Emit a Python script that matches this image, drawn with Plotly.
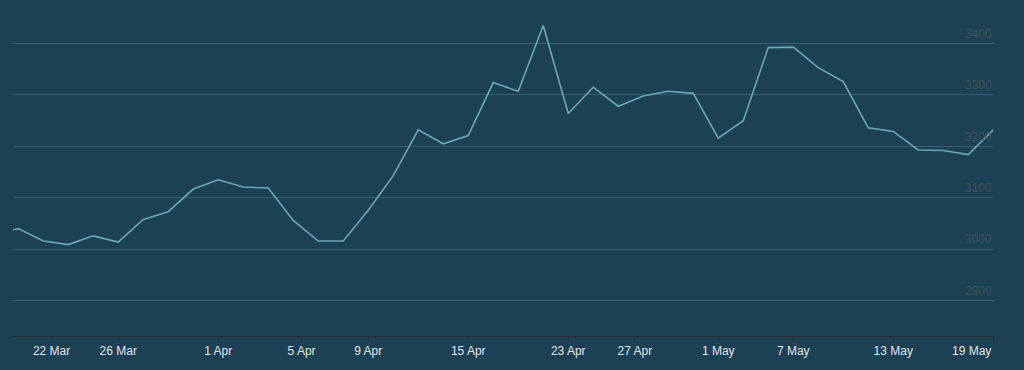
import numpy as np
import pandas as pd
import plotly.graph_objects as go

# Trading days (UK market, 2014) and closing values
dates = [
    "2014-03-19", "2014-03-20", "2014-03-21", "2014-03-24", "2014-03-25", "2014-03-26",
    "2014-03-27", "2014-03-28", "2014-03-31", "2014-04-01", "2014-04-02", "2014-04-03",
    "2014-04-04", "2014-04-07", "2014-04-08", "2014-04-09", "2014-04-10", "2014-04-11",
    "2014-04-14", "2014-04-15", "2014-04-16", "2014-04-17", "2014-04-22", "2014-04-23",
    "2014-04-24", "2014-04-25", "2014-04-28", "2014-04-29", "2014-04-30", "2014-05-01",
    "2014-05-02", "2014-05-06", "2014-05-07", "2014-05-08", "2014-05-09", "2014-05-12",
    "2014-05-13", "2014-05-14", "2014-05-15", "2014-05-16", "2014-05-19",
]
values = [
    3030, 3040, 3016, 3009, 3026, 3014,
    3058, 3073, 3117, 3135, 3121, 3119,
    3056, 3016, 3016, 3076, 3143, 3232,
    3205, 3221, 3324, 3307, 3435, 3264,
    3315, 3278, 3298, 3307, 3303, 3216,
    3250, 3392, 3393, 3353, 3326, 3236,
    3229, 3193, 3192, 3184, 3232,
]
tick_dates = [
    "2014-03-22", "2014-03-26", "2014-04-01", "2014-04-05", "2014-04-09", "2014-04-15",
    "2014-04-23", "2014-04-27", "2014-05-01", "2014-05-07", "2014-05-13", "2014-05-19",
]
tick_labels = [
    "22 Mar", "26 Mar", "1 Apr", "5 Apr", "9 Apr", "15 Apr",
    "23 Apr", "27 Apr", "1 May", "7 May", "13 May", "19 May",
]
y_ticks = [2900, 3000, 3100, 3200, 3300, 3400]

# Ordinal axis: points equally spaced, ticks interpolated by date
pos = np.arange(len(dates))
day_num = pd.to_datetime(pd.Series(dates)).map(pd.Timestamp.toordinal).to_numpy(float)
tick_num = pd.to_datetime(pd.Series(tick_dates)).map(pd.Timestamp.toordinal).to_numpy(float)
tick_pos = np.interp(tick_num, day_num, pos)

# the last label is right-aligned to its tick so it stays inside the chart
shown_labels = tick_labels[:-1] + [""]

BG = "rgb(28,64,84)"
XLABEL_FONT = dict(family="Liberation Sans, Arial, sans-serif", size=12, color="rgb(225,228,230)")

fig = go.Figure()
fig.add_trace(go.Scatter(
    x=pos, y=values, mode="lines",
    line=dict(color="rgb(102,170,183)", width=1.6),
    hoverinfo="skip", showlegend=False,
))

fig.add_annotation(
    x=tick_pos[-1], xref="x", y=0, yref="paper",
    text=tick_labels[-1], showarrow=False,
    xanchor="right", yanchor="top", yshift=-6,
    font=XLABEL_FONT,
)

fig.update_layout(
    width=1024, height=370,
    margin=dict(l=13, r=30, t=10, b=34, autoexpand=False),
    paper_bgcolor=BG, plot_bgcolor=BG,
    font=dict(family="Liberation Sans, Arial, sans-serif"),
    xaxis=dict(
        range=[0.79, len(dates) - 1 + 0.03],
        tickmode="array", tickvals=tick_pos, ticktext=shown_labels,
        showgrid=False, zeroline=False,
        showline=True, linecolor="rgb(45,45,45)", linewidth=1,
        ticks="outside", ticklen=4, tickcolor="rgb(45,45,45)",
        tickfont=XLABEL_FONT,
        automargin=False,
    ),
    yaxis=dict(
        range=[2831.3, 3465.1], side="right",
        tickmode="array", tickvals=y_ticks,
        ticks="",
        ticklabelshift=-10, ticklabelstandoff=-30,
        showgrid=True, gridcolor="rgb(58,94,112)", gridwidth=1,
        zeroline=False, showline=False,
        tickfont=dict(size=12, color="rgb(64,82,84)"),
        automargin=False,
    ),
)

fig.write_html("out.html")
